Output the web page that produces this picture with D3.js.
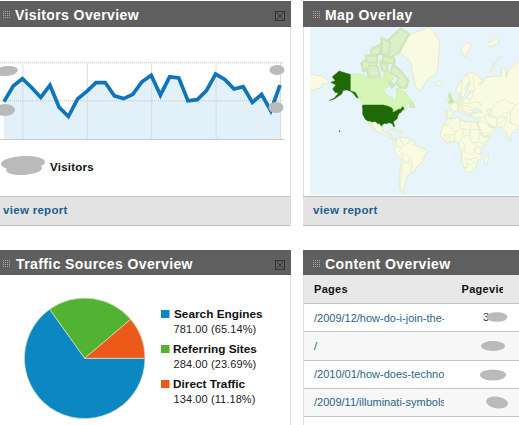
<!DOCTYPE html>
<html><head><meta charset="utf-8">
<script src="https://cdn.jsdelivr.net/npm/d3@7/dist/d3.min.js"></script>
<style>html,body{margin:0;padding:0;background:#fff;overflow:hidden}svg{display:block}text{font-family:"Liberation Sans",Arial,sans-serif}</style>
</head><body><svg id="c" width="519" height="425"></svg>
<script>
// ---- data ----
const visitors=[98,139,158,135,109,141,83,59,105,125,148,148,113,106,117,150,167,115,163,160,100,103,127,170,156,131,137,96,117,74,141];
const weekIdx=[2,9,16,23];
const yGrid=[100,200];
const sourceNames=["Search Engines","Referring Sites","Direct Traffic"];
const sourceValues=[781,284,134];
const sourceShares=["65.14","23.69","11.18"];
const sourceColors=["#0b87c2","#52b232","#ec5a1a"];
const pageNames=["/2009/12/how-do-i-join-the-illuminati/","/","/2010/01/how-does-technology-work/","/2009/11/illuminati-symbols/"];
// map outlines as lon/lat
const usa=[[-124.7,48.4],[-123,49],[-95,49],[-94.6,48.7],[-89.6,48],[-84.5,46.5],[-82.5,45.3],[-82.4,43],[-83,42],[-79,42.8],[-79,43.3],[-76.5,44],[-75,45],[-71.5,45],[-69.2,47.4],[-67.8,47],[-67,44.8],[-70,43.7],[-70.7,42],[-74,40.6],[-75.5,38],[-76,35.5],[-78,33.9],[-81,32],[-81.4,30],[-80,26.8],[-80.5,25.2],[-81.8,26],[-83,29],[-85,29.7],[-89,30.2],[-90,29.2],[-94,29.5],[-97.3,27.5],[-97.2,26],[-99.5,27.5],[-101.4,29.8],[-103,29],[-106.5,31.8],[-111,31.3],[-114.8,32.5],[-117.1,32.5],[-120.5,34.5],[-122.5,37.5],[-124.3,40.3],[-124,44]];
const alaska=[[-141,69.7],[-156.5,71.3],[-166,68.5],[-162,66.5],[-168,65.6],[-161,64],[-165.5,61.5],[-162,59],[-157.5,58.7],[-163,55],[-170,53],[-163,54.2],[-153,58],[-151,60.5],[-146,60.8],[-141,60],[-137,58.5],[-133,55.5],[-130,55],[-134,59],[-141,60.3]];
const hawaii=[[-156.5,20.8],[-155,19.8],[-155.8,18.9],[-156.8,19.8]];
const canada=[[-141,69.7],[-128,70],[-115,68],[-95,68],[-94,72],[-85,69],[-81,68],[-87,64],[-94,61],[-93,58.5],[-85,55.5],[-82,55],[-82,52],[-79,51.5],[-79,54.5],[-77,57],[-78,62],[-70,61],[-65,59],[-61,56],[-56,52.5],[-60,50],[-66,50],[-65,48.5],[-61,46],[-66,44],[-67,44.8],[-67.8,47],[-69.2,47.4],[-71.5,45],[-75,45],[-76.5,44],[-79,43.3],[-79,42.8],[-83,42],[-82.4,43],[-82.5,45.3],[-84.5,46.5],[-89.6,48],[-94.6,48.7],[-95,49],[-123,49],[-130,55],[-133,55.5],[-137,58.5],[-141,60]];
const arctic=[
[[-82,74],[-72,71.5],[-61,66.5],[-64,62],[-72,62.5],[-78,65],[-74,68],[-86,70.5]],
[[-119,73.5],[-104,73.5],[-100,68.8],[-116,68.5]],
[[-92,80.5],[-72,83.2],[-60,82.3],[-74,78],[-88,76]],
[[-126,74.5],[-116,76.5],[-115,73],[-123,71]],
[[-96,77],[-80,76],[-80,74.5],[-96,74.5]],
[[-98,81.5],[-86,80.5],[-88,77.5],[-98,77.5]],
[[-120,77],[-104,77],[-104,74.5],[-118,74.8]],
[[-100,75],[-90,74.5],[-90,71],[-97,71.5]],
[[-112,79],[-100,80],[-100,77.5],[-112,77]],
[[-88,66],[-80,64.2],[-84,62.3]],
[[-59,47.7],[-56,51.5],[-53,47]]];
const greenland=[[-73,78],[-60,82],[-32,83.5],[-18,81],[-20,74],[-22,70],[-33,68],[-42,62],[-44,60],[-50,62],[-54,68],[-58,75]];
const eurasia=[[-9,37],[-9,43],[-1.5,43.5],[-1,46],[-4.5,48.4],[1.5,50.5],[3.5,51.5],[6,53.5],[8.5,54],[8.3,57],[10.5,57.5],[10,54.5],[14,54],[19,54.5],[21,57],[24,58.5],[24,59.5],[30,60],[23,60],[21,61],[22,63],[25,65.5],[22,65.8],[17.5,62],[18.5,60],[16.5,57],[14,55.5],[12.5,56],[11,59],[7,58],[5,60],[5,62],[13,67],[20,70],[28,71],[33,69.5],[41,67],[40,65],[35,64],[38,64.5],[44,66],[44,68],[54,68.5],[60,69],[68,68.5],[67,72],[73,73],[74,68],[78,72],[87,74],[100,77],[113,74],[125,71],[125,22],[92,22],[88,22],[80,15],[80,10],[77.5,8],[73,20],[67,25],[57,25.5],[52,28],[48,30],[51,25],[56,24.5],[59,22],[55,17],[45,13],[43,13],[39,21],[35,28],[34.5,31.5],[36,36],[30,36],[27,37],[26,40],[29,41],[35,42],[41,41.5],[38,45],[33,45],[31,46.5],[28,43],[26,40.8],[23,40],[24,38],[22.5,36.5],[20,40],[19,42],[14,45],[12.5,44],[18,40],[16,38],[12,42],[9,44],[3,43],[0,39.5],[-2,37],[-5.5,36]];
const africa=[[-6,35.8],[-1,35],[10,37],[11,33.5],[20,31],[25,32],[32,31],[34,28],[37,21],[39,15],[43,12],[51,12],[48,5],[40,-3],[39,-8],[40.5,-15],[35,-20],[35,-24],[32,-28],[26,-34],[19,-34.5],[15,-26],[12,-17],[13,-9],[9,-1],[9.5,4],[5,6],[-4,5],[-8,4.5],[-13,8.5],[-17,14.5],[-16,20],[-13,27],[-9,31]];
const southAmerica=[[-77,8],[-72,12],[-62,10.5],[-52,5],[-50,0],[-35,-6],[-39,-16],[-41,-22],[-48,-26],[-53,-34],[-58,-35],[-62,-39],[-65,-45],[-68,-52],[-66,-55],[-72,-53],[-74,-45],[-72,-30],[-70,-18],[-76,-14],[-81,-5],[-79,1]];
const centralAmerica=[[-117,32.5],[-114.8,32.5],[-111,31.3],[-106.5,31.8],[-103,29],[-101.4,29.8],[-99.5,27.5],[-97.2,26],[-97.8,22],[-95,18.5],[-91,18.5],[-90,21],[-87,21],[-88,16],[-83.5,15],[-83.5,10],[-80,9],[-77,8],[-78,7],[-81,7.5],[-86,10.5],[-92,14.5],[-96,16],[-105,20],[-109,26],[-113,31],[-110,23],[-115,28]];
const otherLand=[
[[-200,70],[-180,69],[-170,66],[-173,64.5],[-180,65],[-182,62],[-200,60]],
[[-24,65.5],[-18,66.3],[-14,65],[-18,63.5],[-22,64]],
[[-10,52],[-6,52],[-6,55],[-10,54]],
[[49.5,-12],[50,-16],[47,-25],[44,-24],[44,-17]],
[[-85,22],[-80,23],[-75,20],[-78,20]],
[[-74,19.8],[-69,19.5],[-69,18.2],[-74,18]],
[[11,79],[20,80.5],[27,80],[17,76.5]],
[[52,71],[56,74],[68,77],[58,74],[55,71]],
[[48,80],[60,81.5],[65,80.5],[52,79.5]],
[[80,9.5],[82,7.5],[80.5,6]]];
const lightGreenLand=[
[[-5.5,50],[1,51],[1.5,53],[-1.5,55],[-2,57.5],[-5,58.5],[-5.5,56],[-3,54],[-5,52]]];
const paleGreenLand=[[[6,51],[7,53.5],[9,54.8],[14,54],[15,51],[13,48.5],[8,47.6]]];
const caspian=[[47,45],[53,46],[53,40],[54,37],[50,37],[49,41]];
const borders=[
[[-9,42],[-7,42],[-7,37]],[[-1.5,43.5],[3,42.5]],[[3.5,51.5],[6,50],[8,49],[7.5,47.6],[7,44]],[[7.5,46],[13,46.5],[14,45]],
[[15,51],[23,50],[24,54],[19,54.5]],[[13,48.5],[17,48],[22,48],[28,45.5]],[[23,50],[32,52],[40,50],[38,47]],[[24,54],[28,56],[28,60]],
[[19,42],[22,44],[28,43.8]],[[20,40],[26,41.5]],[[12.5,56],[13,67]],[[20,70],[24,66],[25,65.5]],[[28,71],[30,62],[30,60]],
[[36,36],[42,37],[45,39],[48,39]],[[35,32],[39,32],[47,29.5]],[[42,37],[46,34],[48,30]],[[45,39],[44,37],[46,34]],[[48,39],[54,37],[61,36],[61,30],[62,25]],
[[61,36],[66,37],[74,37],[70,33],[66,30],[61,30]],[[74,37],[74,32],[71,25],[69,24]],[[74,32],[80,30],[88,27],[92,26],[92,22]],
[[52,42],[55,45],[60,51],[72,54],[80,51],[87,49]],[[54,41],[61,36]],[[66,37],[70,41],[80,42],[87,49]],[[87,49],[98,52],[115,50]],[[80,42],[80,30]],
[[52,19],[45,17],[43,17]],[[52,19],[55,22]],[[39,32],[35,29]],
[[-2,35],[-2,32],[-8,28],[-13,27.5]],[[-8,28],[4,19],[12,23],[10,30],[10,37]],[[12,23],[25,20],[25,32]],[[25,22],[37,22]],[[24,20],[24,10],[27,5],[31,3.5],[35,5]],[[24,15],[14,13],[15,23]],[[14,13],[9,4]],[[4,19],[3,11],[3,6]],[[-12,15],[-5,15],[4,15]],[[-5,15],[-3,5]],[[-12,15],[-8,10],[-8,4.5]],[[35,5],[42,4],[48,8]],[[35,5],[37,15],[39,15]],[[42,4],[41,-2]],[[31,3.5],[34,-1],[40,-4]],[[30,-1],[30,-8],[28,-12],[22,-11],[13,-6]],[[14,5],[16,2],[18,-4],[13,-5]],[[34,-1],[30,-8],[35,-11],[40.5,-11]],[[12,-17],[22,-18],[25,-18],[33,-16],[35,-14]],[[20,-18],[20,-28],[17,-29]],[[25,-18],[29,-22],[32,-23],[32,-26]],[[20,-25],[26,-25],[29,-22]],
[[-72,12],[-72,7],[-67,1],[-70,-4],[-74,-7],[-70,-11],[-69,-18]],[[-67,1],[-60,5],[-60,8]],[[-60,5],[-57,2],[-52,2]],[[-79,1],[-75,0],[-70,-4]],[[-79,-4],[-75,-1]],[[-69,-11],[-60,-14],[-58,-20],[-62,-22],[-67,-23],[-69,-18]],[[-58,-20],[-55,-25],[-58,-27],[-62,-22]],[[-55,-25],[-57,-30],[-53,-34]],[[-58,-30],[-58,-35]],[[-69,-23],[-70,-33],[-72,-45],[-70,-52]],
[[-92,14.5],[-91,18.5]],[[-89,18],[-89,15]],[[-88,13.5],[-83.5,15]],[[-83.5,11],[-86,11]],[[-83,8.5],[-83,10]]];
const blobs=[[7,71,11,5,-6],[5,110,10,6,0],[277,70,7.5,5,0],[276,107.5,7.5,5.5,0],[23,163,22,7,-3],[24,169,18,6,-3],[497,317,10.5,4.8,0],[493,346,12,5,0],[493,375,13,5.5,0],[497,402.5,11,5.8,8]];

// ---- drawing ----
const svg=d3.select("#c");
const defs=svg.append("defs");
function clip(id,x,y,w,h){defs.append("clipPath").attr("id",id).append("rect").attr("x",x).attr("y",y).attr("width",w).attr("height",h);}
clip("mapClip",310,27,209,168);clip("pagesClip",312,303,132,115);clip("pvClip",455,275,48,28);
const rect=(x,y,w,h,f)=>svg.append("rect").attr("x",x).attr("y",y).attr("width",w).attr("height",h).attr("fill",f);
const hline=(x1,x2,y,c)=>svg.append("line").attr("x1",x1).attr("x2",x2).attr("y1",y).attr("y2",y).attr("stroke",c);
const vline=(x,y1,y2,c)=>svg.append("line").attr("x1",x).attr("x2",x).attr("y1",y1).attr("y2",y2).attr("stroke",c);
const txt=(s,x,y,size,weight,fill,ls)=>svg.append("text").attr("x",x).attr("y",y).attr("font-size",size).attr("font-weight",weight).attr("fill",fill).attr("letter-spacing",ls||0).text(s);

function header(x,w,y,h,title,tx,grip,close){
  rect(x,y,w,h,"#5f5f5f");
  const n=d3.range(4);
  const g=svg.append("g").attr("fill","#a8a8a8");
  n.forEach(i=>n.forEach(j=>g.append("rect").attr("x",grip+i*2).attr("y",y+10+j*2).attr("width",1).attr("height",1)));
  txt(title,tx,y+19,14,"bold","#fff",0.4);
  if(close){
    const c=svg.append("g").attr("fill","none").attr("stroke","#2b2b2b").attr("stroke-width",0.8);
    c.append("rect").attr("x",275.5).attr("y",y+10.5).attr("width",9).attr("height",9);
    c.append("path").attr("d",`M276.5 ${y+11.5}L283.5 ${y+18.5}M283.5 ${y+11.5}L276.5 ${y+18.5}`);
  }
}
function footer(x,w){
  rect(x,196,w,29,"#e3e3e3");
  hline(x,x+w,196.5,"#bdbdbd");hline(x,x+w,225.5,"#bdbdbd");
  txt("view report",x+3+(x?7:0),214,11.5,"bold","#21608f",0.3);
}
// panel edges
vline(290.5,27,226,"#dedede");vline(303.5,27,226,"#dedede");vline(290.5,275,425,"#dedede");vline(303.5,275,425,"#dedede");

// Visitors
header(0,291,1,26,"Visitors Overview",15,3,true);
const x=d3.scaleLinear().domain([0,30]).range([4,280]);
const y=d3.scaleLinear().domain([0,200]).range([139,62.7]);
const area=d3.area().x((d,i)=>x(i)).y0(y(0)).y1(d=>y(d));
const line=d3.line().x((d,i)=>x(i)).y(d=>y(d));
svg.append("path").datum(visitors).attr("d",area).attr("fill","#e2f0f9");
svg.append("g").selectAll("line").data(weekIdx.concat([30])).join("line").attr("x1",d=>x(d)+0.5).attr("x2",d=>x(d)+0.5).attr("y1",y(200)).attr("y2",y(0)).attr("stroke","#d5dde3");
svg.append("g").selectAll("line").data(yGrid).join("line").attr("x1",0).attr("x2",284).attr("y1",d=>y(d)).attr("y2",d=>y(d)).attr("stroke","#c4c4c4").attr("stroke-dasharray","1,1");
hline(0,284,139.5,"#c8c8c8");
svg.append("path").datum(visitors).attr("d",line).attr("fill","none").attr("stroke","#0f74ba").attr("stroke-width",3.7).attr("stroke-linejoin","miter");
txt("Visitors",50,171,11.5,"bold","#111",0.25);
footer(0,290);

// Map
header(303,216,1,26,"Map Overlay",325,313,false);
const proj=d3.geoMercator().rotate([50,0]).scale(41.5).translate([416.3,145.8]);
const shape=d3.line().x(d=>proj(d)[0]).y(d=>proj(d)[1]).curve(d3.curveLinearClosed);
const open=d3.line().x(d=>proj(d)[0]).y(d=>proj(d)[1]);
const map=svg.append("g").attr("clip-path","url(#mapClip)");
map.append("rect").attr("x",310).attr("y",27).attr("width",209).attr("height",168).attr("fill","#e8f4fc");
const land=(polys,fill,stroke,w)=>map.append("g").selectAll("path").data(polys).join("path").attr("d",shape).attr("fill",fill).attr("stroke",stroke).attr("stroke-width",w).attr("stroke-linejoin","round");
land([greenland,africa,southAmerica,centralAmerica,eurasia].concat(otherLand),"#f8fbe2","#e2ecc8",1);
map.append("g").selectAll("path").data(borders).join("path").attr("d",open).attr("fill","none").attr("stroke","#e5edc8").attr("stroke-width",0.9);
land([caspian],"#e8f4fc","#e2ecc8",0.7);
land(lightGreenLand,"#c2eaa0","#c8e6aa",0.7);
land(paleGreenLand,"#e6f5cc","#d8ecba",0.7);
land([canada],"#d6f6b6","#cfe8b4",0.6);
land(arctic,"#dcf0c8","#d0e6b8",2.2);
land([usa,alaska,hawaii],"#1f6a06","#1f6a06",0.4);
footer(303,216);

// Traffic sources
header(0,291,250,25,"Traffic Sources Overview",16,3,true);
const pie=d3.pie().sort(null).startAngle(Math.PI/2).endAngle(Math.PI*2.5);
const arc=d3.arc().innerRadius(0).outerRadius(60.3);
svg.append("g").attr("transform","translate(84.7,358.3)").selectAll("path").data(pie(sourceValues)).join("path").attr("d",arc).attr("fill",(d,i)=>sourceColors[i]).attr("stroke","#d9e4c8").attr("stroke-width",0.7);
const legendY=d3.scalePoint().domain(sourceNames).range([318,388]);
sourceNames.forEach((n,i)=>{
  const ly=legendY(n);
  rect(161,ly-8,8.5,8,sourceColors[i]);
  txt(n,i?173:174,ly,11.8,"bold","#111",0);
  txt(d3.format(".2f")(sourceValues[i])+" ("+sourceShares[i]+"%)",173.5,ly+15,11,"normal","#222",0.1);
});

// Content overview
header(303,216,250,25,"Content Overview",325,313,false);
rect(304,275,215,28,"#e8e8e8");
txt("Pages",314,293,11,"bold","#111",0.3);
txt("Pageviews",461.5,293,11,"bold","#111",0.3).attr("clip-path","url(#pvClip)");
const rowY=d3.scaleBand().domain(d3.range(4)).range([303.5,416.5]);
svg.append("g").selectAll("rect").data(pageNames).join("rect").attr("x",304).attr("width",215).attr("y",(d,i)=>rowY(i)).attr("height",rowY.bandwidth()).attr("fill",(d,i)=>i%2?"#f7f7f7":"#fff");
d3.range(5).forEach(i=>hline(304,519,Math.round(303+i*28.25)+0.5,"#c4c4c4"));
svg.append("g").attr("clip-path","url(#pagesClip)").selectAll("text").data(pageNames).join("text").attr("x",314).attr("y",(d,i)=>rowY(i)+18).attr("font-size",11).attr("fill","#2a6488").text(d=>d);
txt("3",483,321,11,"normal","#333");

// redactions
svg.append("g").selectAll("ellipse").data(blobs).join("ellipse").attr("cx",d=>d[0]).attr("cy",d=>d[1]).attr("rx",d=>d[2]).attr("ry",d=>d[3]).attr("transform",d=>`rotate(${d[4]} ${d[0]} ${d[1]})`).attr("fill","#bababa");
</script></body></html>
